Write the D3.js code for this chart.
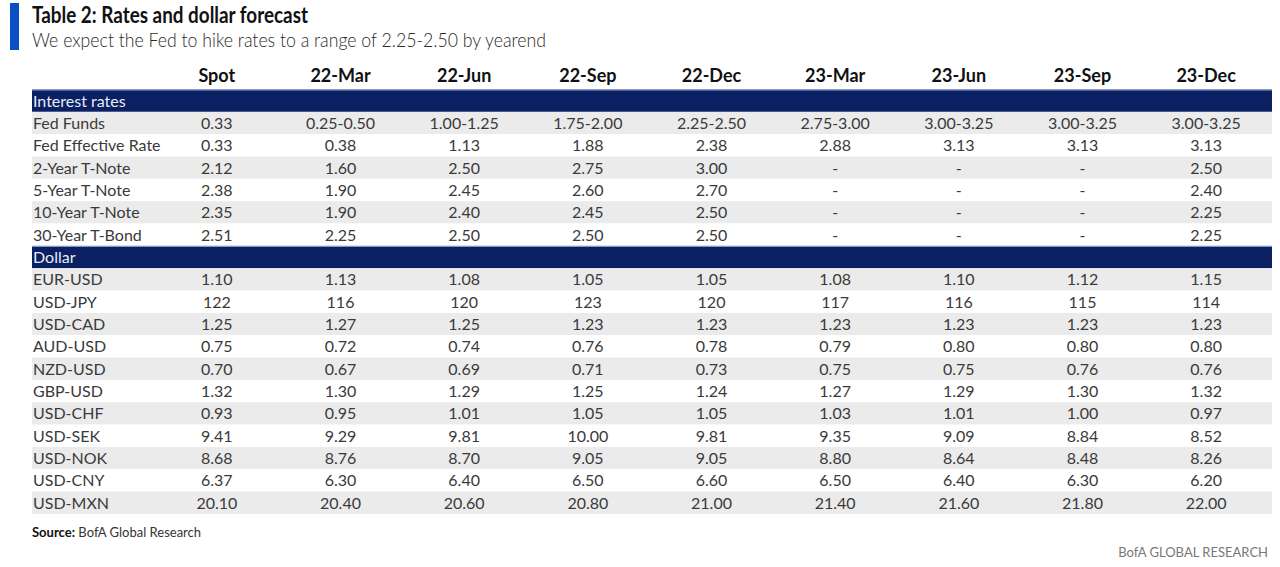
<!DOCTYPE html>
<html>
<head>
<meta charset="utf-8">
<script src="https://cdn.jsdelivr.net/npm/d3@7"></script>
<style>
body { margin: 0; background: #fff; }
svg { font-family: Lato, "Open Sans", sans-serif; }
</style>
</head>
<body>
<svg width="1280" height="567"></svg>
<script>
var svg = d3.select("svg");

// column headers
var columns = ["Spot", "22-Mar", "22-Jun", "22-Sep", "22-Dec", "23-Mar", "23-Jun", "23-Sep", "23-Dec"];

// interest rate rows
var rateLabels = ["Fed Funds", "Fed Effective Rate", "2-Year T-Note", "5-Year T-Note", "10-Year T-Note", "30-Year T-Bond"];
var fedFunds = ["0.33", "0.25-0.50", "1.00-1.25", "1.75-2.00", "2.25-2.50", "2.75-3.00", "3.00-3.25", "3.00-3.25", "3.00-3.25"];
var fedEffective = ["0.33", "0.38", "1.13", "1.88", "2.38", "2.88", "3.13", "3.13", "3.13"];
var tNote2 = ["2.12", "1.60", "2.50", "2.75", "3.00", "-", "-", "-", "2.50"];
var tNote5 = ["2.38", "1.90", "2.45", "2.60", "2.70", "-", "-", "-", "2.40"];
var tNote10 = ["2.35", "1.90", "2.40", "2.45", "2.50", "-", "-", "-", "2.25"];
var tBond30 = ["2.51", "2.25", "2.50", "2.50", "2.50", "-", "-", "-", "2.25"];

// dollar rows
var fxLabels = ["EUR-USD", "USD-JPY", "USD-CAD", "AUD-USD", "NZD-USD", "GBP-USD", "USD-CHF", "USD-SEK", "USD-NOK", "USD-CNY", "USD-MXN"];
var eurUsd = ["1.10", "1.13", "1.08", "1.05", "1.05", "1.08", "1.10", "1.12", "1.15"];
var usdJpy = ["122", "116", "120", "123", "120", "117", "116", "115", "114"];
var usdCad = ["1.25", "1.27", "1.25", "1.23", "1.23", "1.23", "1.23", "1.23", "1.23"];
var audUsd = ["0.75", "0.72", "0.74", "0.76", "0.78", "0.79", "0.80", "0.80", "0.80"];
var nzdUsd = ["0.70", "0.67", "0.69", "0.71", "0.73", "0.75", "0.75", "0.76", "0.76"];
var gbpUsd = ["1.32", "1.30", "1.29", "1.25", "1.24", "1.27", "1.29", "1.30", "1.32"];
var usdChf = ["0.93", "0.95", "1.01", "1.05", "1.05", "1.03", "1.01", "1.00", "0.97"];
var usdSek = ["9.41", "9.29", "9.81", "10.00", "9.81", "9.35", "9.09", "8.84", "8.52"];
var usdNok = ["8.68", "8.76", "8.70", "9.05", "9.05", "8.80", "8.64", "8.48", "8.26"];
var usdCny = ["6.37", "6.30", "6.40", "6.50", "6.60", "6.50", "6.40", "6.30", "6.20"];
var usdMxn = ["20.10", "20.40", "20.60", "20.80", "21.00", "21.40", "21.60", "21.80", "22.00"];

var rateValues = [fedFunds, fedEffective, tNote2, tNote5, tNote10, tBond30];
var fxValues = [eurUsd, usdJpy, usdCad, audUsd, nzdUsd, gbpUsd, usdChf, usdSek, usdNok, usdCny, usdMxn];

// build table rows: section bands + data rows, striping restarts in each section
var rows = [];
function addSection(title, labels, values) {
    rows.push({ band: true, label: title });
    labels.forEach(function(l, i) {
        rows.push({ band: false, label: l, values: values[i], stripe: i % 2 == 0 });
    });
}
addSection("Interest rates", rateLabels, rateValues);
addSection("Dollar", fxLabels, fxValues);

var left = 32, right = 1272;
var x = d3.scaleBand().domain(columns).range([155, 1268]);
var y = d3.scaleBand().domain(d3.range(rows.length)).range([89.5, 514]);

// title block
svg.append("rect").attr("x", 10).attr("y", 3).attr("width", 9).attr("height", 47).attr("fill", "#0a4fc4");
svg.append("text").attr("x", 32).attr("y", 23)
    .attr("textLength", 276).attr("lengthAdjust", "spacingAndGlyphs")
    .style("font-size", "22px").style("font-weight", "bold").attr("fill", "#111")
    .text("Table 2: Rates and dollar forecast");
svg.append("text").attr("x", 32).attr("y", 47)
    .attr("textLength", 514).attr("lengthAdjust", "spacingAndGlyphs")
    .style("font-size", "19.5px").style("font-weight", 300).attr("fill", "#2a2a2a")
    .text("We expect the Fed to hike rates to a range of 2.25-2.50 by yearend");

// header
svg.append("g").selectAll("text")
    .data(columns)
    .enter().append("text")
    .attr("x", function(d) { return x(d) + x.bandwidth() / 2; })
    .attr("y", 82)
    .attr("text-anchor", "middle")
    .style("font-size", "18px").style("font-weight", "bold").attr("fill", "#111")
    .text(function(d) { return d; });

var row = svg.append("g").selectAll("g")
    .data(rows)
    .enter().append("g")
    .attr("transform", function(d, i) { return "translate(0," + y(i) + ")"; });

row.append("rect")
    .attr("x", left).attr("width", right - left)
    .attr("height", y.bandwidth())
    .attr("fill", function(d) { return d.band ? "#0b1f63" : (d.stripe ? "#ebebeb" : "#fff"); });

row.filter(function(d) { return d.band; }).append("line")
    .attr("x1", left).attr("x2", right).attr("y1", 0.5).attr("y2", 0.5)
    .style("stroke", "#8fa6d8");

row.append("text")
    .attr("x", left + 1).attr("y", y.bandwidth() / 2 + 6)
    .style("font-size", "16px")
    .attr("fill", function(d) { return d.band ? "#e8ecf6" : "#3a3a3a"; })
    .text(function(d) { return d.label; });

row.filter(function(d) { return !d.band; }).selectAll("text.val")
    .data(function(d) { return d.values.map(function(v, j) { return { col: columns[j], v: v }; }); })
    .enter().append("text")
    .attr("class", "val")
    .attr("x", function(d) { return x(d.col) + x.bandwidth() / 2; })
    .attr("y", y.bandwidth() / 2 + 6)
    .attr("text-anchor", "middle")
    .style("font-size", "16px").attr("fill", "#3a3a3a")
    .text(function(d) { return d.v; });

// footer
var src = svg.append("text").attr("x", 32).attr("y", 537).style("font-size", "13px").attr("fill", "#333");
src.append("tspan").style("font-weight", "bold").attr("fill", "#111").text("Source:");
src.append("tspan").text("  BofA Global Research");

svg.append("text").attr("x", 1268).attr("y", 557).attr("text-anchor", "end")
    .style("font-size", "13px").attr("fill", "#777")
    .text("BofA GLOBAL RESEARCH");
</script>
</body>
</html>
